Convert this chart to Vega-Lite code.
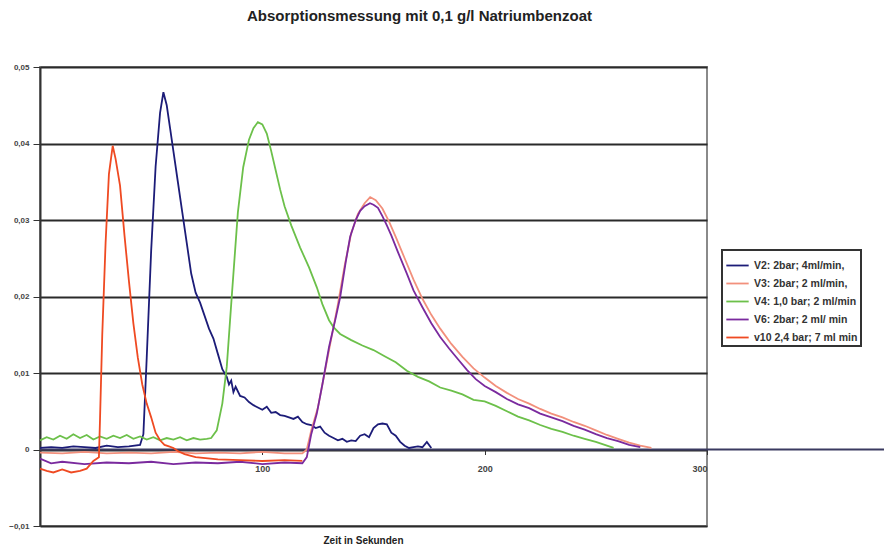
{
  "$schema": "https://vega.github.io/schema/vega-lite/v6.json",
  "autosize": "none",
  "width": 667,
  "height": 459,
  "padding": {"left": 40, "top": 67, "right": 177, "bottom": 21},
  "background": "white",
  "config": {
    "font": "Liberation Sans",
    "view": {"stroke": "#8a8a8a", "strokeWidth": 2}
  },
  "title": {
    "text": "Absorptionsmessung mit 0,1 g/l Natriumbenzoat",
    "fontSize": 15,
    "fontWeight": "bold",
    "color": "#222",
    "anchor": "middle",
    "dx": 46,
    "offset": 39
  },
  "datasets": {
    "pts": [
      {"s": "V2: 2bar; 4ml/min,", "t": 0, "y": 0.0002}, {"s": "V2: 2bar; 4ml/min,", "t": 5, "y": 0.0003}, {"s": "V2: 2bar; 4ml/min,", "t": 10, "y": 0.0002}, {"s": "V2: 2bar; 4ml/min,", "t": 15, "y": 0.0004}, {"s": "V2: 2bar; 4ml/min,", "t": 20, "y": 0.0003}, {"s": "V2: 2bar; 4ml/min,", "t": 25, "y": 0.0002}, {"s": "V2: 2bar; 4ml/min,", "t": 30, "y": 0.0005}, {"s": "V2: 2bar; 4ml/min,", "t": 35, "y": 0.0003}, {"s": "V2: 2bar; 4ml/min,", "t": 40, "y": 0.0004}, {"s": "V2: 2bar; 4ml/min,", "t": 45, "y": 0.0006}, {"s": "V2: 2bar; 4ml/min,", "t": 46.5, "y": 0.002}, {"s": "V2: 2bar; 4ml/min,", "t": 48, "y": 0.012}, {"s": "V2: 2bar; 4ml/min,", "t": 50, "y": 0.026}, {"s": "V2: 2bar; 4ml/min,", "t": 52, "y": 0.037}, {"s": "V2: 2bar; 4ml/min,", "t": 54, "y": 0.044}, {"s": "V2: 2bar; 4ml/min,", "t": 55.5, "y": 0.0467}, {"s": "V2: 2bar; 4ml/min,", "t": 57, "y": 0.045}, {"s": "V2: 2bar; 4ml/min,", "t": 58.5, "y": 0.042}, {"s": "V2: 2bar; 4ml/min,", "t": 60, "y": 0.039}, {"s": "V2: 2bar; 4ml/min,", "t": 62, "y": 0.035}, {"s": "V2: 2bar; 4ml/min,", "t": 64, "y": 0.031}, {"s": "V2: 2bar; 4ml/min,", "t": 66, "y": 0.027}, {"s": "V2: 2bar; 4ml/min,", "t": 68, "y": 0.023}, {"s": "V2: 2bar; 4ml/min,", "t": 70, "y": 0.0205}, {"s": "V2: 2bar; 4ml/min,", "t": 72, "y": 0.0192}, {"s": "V2: 2bar; 4ml/min,", "t": 74, "y": 0.0175}, {"s": "V2: 2bar; 4ml/min,", "t": 76, "y": 0.0158}, {"s": "V2: 2bar; 4ml/min,", "t": 78, "y": 0.0145}, {"s": "V2: 2bar; 4ml/min,", "t": 80, "y": 0.0125}, {"s": "V2: 2bar; 4ml/min,", "t": 82, "y": 0.0105}, {"s": "V2: 2bar; 4ml/min,", "t": 84, "y": 0.0095}, {"s": "V2: 2bar; 4ml/min,", "t": 85, "y": 0.0085}, {"s": "V2: 2bar; 4ml/min,", "t": 86, "y": 0.009}, {"s": "V2: 2bar; 4ml/min,", "t": 87, "y": 0.0075}, {"s": "V2: 2bar; 4ml/min,", "t": 88, "y": 0.0082}, {"s": "V2: 2bar; 4ml/min,", "t": 90, "y": 0.007}, {"s": "V2: 2bar; 4ml/min,", "t": 92, "y": 0.0068}, {"s": "V2: 2bar; 4ml/min,", "t": 94, "y": 0.0062}, {"s": "V2: 2bar; 4ml/min,", "t": 96, "y": 0.0058}, {"s": "V2: 2bar; 4ml/min,", "t": 98, "y": 0.0055}, {"s": "V2: 2bar; 4ml/min,", "t": 100, "y": 0.0052}, {"s": "V2: 2bar; 4ml/min,", "t": 102, "y": 0.0056}, {"s": "V2: 2bar; 4ml/min,", "t": 104, "y": 0.0048}, {"s": "V2: 2bar; 4ml/min,", "t": 106, "y": 0.0049}, {"s": "V2: 2bar; 4ml/min,", "t": 108, "y": 0.0045}, {"s": "V2: 2bar; 4ml/min,", "t": 110, "y": 0.0044}, {"s": "V2: 2bar; 4ml/min,", "t": 112, "y": 0.0042}, {"s": "V2: 2bar; 4ml/min,", "t": 114, "y": 0.004}, {"s": "V2: 2bar; 4ml/min,", "t": 116, "y": 0.0043}, {"s": "V2: 2bar; 4ml/min,", "t": 118, "y": 0.0036}, {"s": "V2: 2bar; 4ml/min,", "t": 120, "y": 0.0033}, {"s": "V2: 2bar; 4ml/min,", "t": 122, "y": 0.0032}, {"s": "V2: 2bar; 4ml/min,", "t": 124, "y": 0.0028}, {"s": "V2: 2bar; 4ml/min,", "t": 126, "y": 0.003}, {"s": "V2: 2bar; 4ml/min,", "t": 128, "y": 0.0022}, {"s": "V2: 2bar; 4ml/min,", "t": 130, "y": 0.0018}, {"s": "V2: 2bar; 4ml/min,", "t": 132, "y": 0.0015}, {"s": "V2: 2bar; 4ml/min,", "t": 134, "y": 0.0012}, {"s": "V2: 2bar; 4ml/min,", "t": 136, "y": 0.0014}, {"s": "V2: 2bar; 4ml/min,", "t": 138, "y": 0.001}, {"s": "V2: 2bar; 4ml/min,", "t": 140, "y": 0.0012}, {"s": "V2: 2bar; 4ml/min,", "t": 142, "y": 0.0011}, {"s": "V2: 2bar; 4ml/min,", "t": 144, "y": 0.0018}, {"s": "V2: 2bar; 4ml/min,", "t": 146, "y": 0.002}, {"s": "V2: 2bar; 4ml/min,", "t": 148, "y": 0.0016}, {"s": "V2: 2bar; 4ml/min,", "t": 150, "y": 0.0028}, {"s": "V2: 2bar; 4ml/min,", "t": 152, "y": 0.0033}, {"s": "V2: 2bar; 4ml/min,", "t": 154, "y": 0.0034}, {"s": "V2: 2bar; 4ml/min,", "t": 156, "y": 0.0033}, {"s": "V2: 2bar; 4ml/min,", "t": 158, "y": 0.0022}, {"s": "V2: 2bar; 4ml/min,", "t": 160, "y": 0.0018}, {"s": "V2: 2bar; 4ml/min,", "t": 162, "y": 0.001}, {"s": "V2: 2bar; 4ml/min,", "t": 164, "y": 0.0005}, {"s": "V2: 2bar; 4ml/min,", "t": 166, "y": 0.0002}, {"s": "V2: 2bar; 4ml/min,", "t": 168, "y": 0.0003}, {"s": "V2: 2bar; 4ml/min,", "t": 170, "y": 0.0004}, {"s": "V2: 2bar; 4ml/min,", "t": 172, "y": 0.0003}, {"s": "V2: 2bar; 4ml/min,", "t": 174, "y": 0.001}, {"s": "V2: 2bar; 4ml/min,", "t": 176, "y": 0.0002},

      {"s": "V3: 2bar; 2 ml/min,", "t": 0, "y": -0.0004}, {"s": "V3: 2bar; 2 ml/min,", "t": 10, "y": -0.0005}, {"s": "V3: 2bar; 2 ml/min,", "t": 20, "y": -0.0003}, {"s": "V3: 2bar; 2 ml/min,", "t": 30, "y": -0.0005}, {"s": "V3: 2bar; 2 ml/min,", "t": 40, "y": -0.0004}, {"s": "V3: 2bar; 2 ml/min,", "t": 50, "y": -0.0005}, {"s": "V3: 2bar; 2 ml/min,", "t": 60, "y": -0.0003}, {"s": "V3: 2bar; 2 ml/min,", "t": 70, "y": -0.0005}, {"s": "V3: 2bar; 2 ml/min,", "t": 80, "y": -0.0004}, {"s": "V3: 2bar; 2 ml/min,", "t": 90, "y": -0.0005}, {"s": "V3: 2bar; 2 ml/min,", "t": 100, "y": -0.0003}, {"s": "V3: 2bar; 2 ml/min,", "t": 110, "y": -0.0005}, {"s": "V3: 2bar; 2 ml/min,", "t": 118, "y": -0.0005}, {"s": "V3: 2bar; 2 ml/min,", "t": 120, "y": 0.0}, {"s": "V3: 2bar; 2 ml/min,", "t": 122, "y": 0.0025}, {"s": "V3: 2bar; 2 ml/min,", "t": 125, "y": 0.0055}, {"s": "V3: 2bar; 2 ml/min,", "t": 128, "y": 0.01}, {"s": "V3: 2bar; 2 ml/min,", "t": 131, "y": 0.0145}, {"s": "V3: 2bar; 2 ml/min,", "t": 134, "y": 0.019}, {"s": "V3: 2bar; 2 ml/min,", "t": 137, "y": 0.024}, {"s": "V3: 2bar; 2 ml/min,", "t": 140, "y": 0.0283}, {"s": "V3: 2bar; 2 ml/min,", "t": 143, "y": 0.0308}, {"s": "V3: 2bar; 2 ml/min,", "t": 146, "y": 0.0322}, {"s": "V3: 2bar; 2 ml/min,", "t": 148.5, "y": 0.033}, {"s": "V3: 2bar; 2 ml/min,", "t": 151, "y": 0.0326}, {"s": "V3: 2bar; 2 ml/min,", "t": 154, "y": 0.0315}, {"s": "V3: 2bar; 2 ml/min,", "t": 157, "y": 0.0298}, {"s": "V3: 2bar; 2 ml/min,", "t": 160, "y": 0.0278}, {"s": "V3: 2bar; 2 ml/min,", "t": 164, "y": 0.025}, {"s": "V3: 2bar; 2 ml/min,", "t": 168, "y": 0.0222}, {"s": "V3: 2bar; 2 ml/min,", "t": 172, "y": 0.0197}, {"s": "V3: 2bar; 2 ml/min,", "t": 176, "y": 0.0176}, {"s": "V3: 2bar; 2 ml/min,", "t": 180, "y": 0.0158}, {"s": "V3: 2bar; 2 ml/min,", "t": 185, "y": 0.0138}, {"s": "V3: 2bar; 2 ml/min,", "t": 190, "y": 0.0121}, {"s": "V3: 2bar; 2 ml/min,", "t": 195, "y": 0.0106}, {"s": "V3: 2bar; 2 ml/min,", "t": 200, "y": 0.0094}, {"s": "V3: 2bar; 2 ml/min,", "t": 205, "y": 0.0083}, {"s": "V3: 2bar; 2 ml/min,", "t": 210, "y": 0.0074}, {"s": "V3: 2bar; 2 ml/min,", "t": 215, "y": 0.0066}, {"s": "V3: 2bar; 2 ml/min,", "t": 220, "y": 0.006}, {"s": "V3: 2bar; 2 ml/min,", "t": 225, "y": 0.0053}, {"s": "V3: 2bar; 2 ml/min,", "t": 230, "y": 0.0047}, {"s": "V3: 2bar; 2 ml/min,", "t": 235, "y": 0.0042}, {"s": "V3: 2bar; 2 ml/min,", "t": 240, "y": 0.0036}, {"s": "V3: 2bar; 2 ml/min,", "t": 245, "y": 0.0031}, {"s": "V3: 2bar; 2 ml/min,", "t": 250, "y": 0.0025}, {"s": "V3: 2bar; 2 ml/min,", "t": 255, "y": 0.0019}, {"s": "V3: 2bar; 2 ml/min,", "t": 260, "y": 0.0014}, {"s": "V3: 2bar; 2 ml/min,", "t": 265, "y": 0.0009}, {"s": "V3: 2bar; 2 ml/min,", "t": 270, "y": 0.0005}, {"s": "V3: 2bar; 2 ml/min,", "t": 275, "y": 0.0002},

      {"s": "V4: 1,0 bar; 2 ml/min", "t": 0, "y": 0.0012}, {"s": "V4: 1,0 bar; 2 ml/min", "t": 3, "y": 0.0016}, {"s": "V4: 1,0 bar; 2 ml/min", "t": 6, "y": 0.0013}, {"s": "V4: 1,0 bar; 2 ml/min", "t": 9, "y": 0.0018}, {"s": "V4: 1,0 bar; 2 ml/min", "t": 12, "y": 0.0014}, {"s": "V4: 1,0 bar; 2 ml/min", "t": 15, "y": 0.002}, {"s": "V4: 1,0 bar; 2 ml/min", "t": 18, "y": 0.0015}, {"s": "V4: 1,0 bar; 2 ml/min", "t": 21, "y": 0.0019}, {"s": "V4: 1,0 bar; 2 ml/min", "t": 24, "y": 0.0013}, {"s": "V4: 1,0 bar; 2 ml/min", "t": 27, "y": 0.0017}, {"s": "V4: 1,0 bar; 2 ml/min", "t": 30, "y": 0.0014}, {"s": "V4: 1,0 bar; 2 ml/min", "t": 33, "y": 0.0018}, {"s": "V4: 1,0 bar; 2 ml/min", "t": 36, "y": 0.0015}, {"s": "V4: 1,0 bar; 2 ml/min", "t": 39, "y": 0.0019}, {"s": "V4: 1,0 bar; 2 ml/min", "t": 42, "y": 0.0014}, {"s": "V4: 1,0 bar; 2 ml/min", "t": 45, "y": 0.0017}, {"s": "V4: 1,0 bar; 2 ml/min", "t": 48, "y": 0.0013}, {"s": "V4: 1,0 bar; 2 ml/min", "t": 51, "y": 0.0016}, {"s": "V4: 1,0 bar; 2 ml/min", "t": 54, "y": 0.0012}, {"s": "V4: 1,0 bar; 2 ml/min", "t": 57, "y": 0.0015}, {"s": "V4: 1,0 bar; 2 ml/min", "t": 60, "y": 0.0013}, {"s": "V4: 1,0 bar; 2 ml/min", "t": 63, "y": 0.0016}, {"s": "V4: 1,0 bar; 2 ml/min", "t": 66, "y": 0.0012}, {"s": "V4: 1,0 bar; 2 ml/min", "t": 69, "y": 0.0015}, {"s": "V4: 1,0 bar; 2 ml/min", "t": 72, "y": 0.0013}, {"s": "V4: 1,0 bar; 2 ml/min", "t": 75, "y": 0.0014}, {"s": "V4: 1,0 bar; 2 ml/min", "t": 77, "y": 0.0015}, {"s": "V4: 1,0 bar; 2 ml/min", "t": 79.5, "y": 0.0025}, {"s": "V4: 1,0 bar; 2 ml/min", "t": 82, "y": 0.006}, {"s": "V4: 1,0 bar; 2 ml/min", "t": 84, "y": 0.0108}, {"s": "V4: 1,0 bar; 2 ml/min", "t": 86, "y": 0.019}, {"s": "V4: 1,0 bar; 2 ml/min", "t": 87.5, "y": 0.025}, {"s": "V4: 1,0 bar; 2 ml/min", "t": 89, "y": 0.031}, {"s": "V4: 1,0 bar; 2 ml/min", "t": 91.4, "y": 0.0369}, {"s": "V4: 1,0 bar; 2 ml/min", "t": 94, "y": 0.0405}, {"s": "V4: 1,0 bar; 2 ml/min", "t": 96, "y": 0.042}, {"s": "V4: 1,0 bar; 2 ml/min", "t": 98, "y": 0.0428}, {"s": "V4: 1,0 bar; 2 ml/min", "t": 100, "y": 0.0425}, {"s": "V4: 1,0 bar; 2 ml/min", "t": 102, "y": 0.0413}, {"s": "V4: 1,0 bar; 2 ml/min", "t": 104, "y": 0.039}, {"s": "V4: 1,0 bar; 2 ml/min", "t": 106, "y": 0.0365}, {"s": "V4: 1,0 bar; 2 ml/min", "t": 108, "y": 0.034}, {"s": "V4: 1,0 bar; 2 ml/min", "t": 110, "y": 0.0318}, {"s": "V4: 1,0 bar; 2 ml/min", "t": 113, "y": 0.0293}, {"s": "V4: 1,0 bar; 2 ml/min", "t": 117, "y": 0.0264}, {"s": "V4: 1,0 bar; 2 ml/min", "t": 121, "y": 0.0238}, {"s": "V4: 1,0 bar; 2 ml/min", "t": 124.5, "y": 0.0212}, {"s": "V4: 1,0 bar; 2 ml/min", "t": 127, "y": 0.019}, {"s": "V4: 1,0 bar; 2 ml/min", "t": 130, "y": 0.0169}, {"s": "V4: 1,0 bar; 2 ml/min", "t": 132, "y": 0.016}, {"s": "V4: 1,0 bar; 2 ml/min", "t": 135, "y": 0.0151}, {"s": "V4: 1,0 bar; 2 ml/min", "t": 140, "y": 0.0143}, {"s": "V4: 1,0 bar; 2 ml/min", "t": 145, "y": 0.0136}, {"s": "V4: 1,0 bar; 2 ml/min", "t": 150, "y": 0.013}, {"s": "V4: 1,0 bar; 2 ml/min", "t": 155, "y": 0.0122}, {"s": "V4: 1,0 bar; 2 ml/min", "t": 160, "y": 0.0114}, {"s": "V4: 1,0 bar; 2 ml/min", "t": 165, "y": 0.0103}, {"s": "V4: 1,0 bar; 2 ml/min", "t": 170, "y": 0.0095}, {"s": "V4: 1,0 bar; 2 ml/min", "t": 175, "y": 0.0089}, {"s": "V4: 1,0 bar; 2 ml/min", "t": 180, "y": 0.0081}, {"s": "V4: 1,0 bar; 2 ml/min", "t": 185, "y": 0.0077}, {"s": "V4: 1,0 bar; 2 ml/min", "t": 190, "y": 0.0072}, {"s": "V4: 1,0 bar; 2 ml/min", "t": 195, "y": 0.0065}, {"s": "V4: 1,0 bar; 2 ml/min", "t": 200, "y": 0.0063}, {"s": "V4: 1,0 bar; 2 ml/min", "t": 205, "y": 0.0057}, {"s": "V4: 1,0 bar; 2 ml/min", "t": 210, "y": 0.005}, {"s": "V4: 1,0 bar; 2 ml/min", "t": 215, "y": 0.0043}, {"s": "V4: 1,0 bar; 2 ml/min", "t": 220, "y": 0.0038}, {"s": "V4: 1,0 bar; 2 ml/min", "t": 225, "y": 0.0032}, {"s": "V4: 1,0 bar; 2 ml/min", "t": 230, "y": 0.0027}, {"s": "V4: 1,0 bar; 2 ml/min", "t": 235, "y": 0.0023}, {"s": "V4: 1,0 bar; 2 ml/min", "t": 240, "y": 0.0018}, {"s": "V4: 1,0 bar; 2 ml/min", "t": 245, "y": 0.0014}, {"s": "V4: 1,0 bar; 2 ml/min", "t": 250, "y": 0.001}, {"s": "V4: 1,0 bar; 2 ml/min", "t": 255, "y": 0.0005}, {"s": "V4: 1,0 bar; 2 ml/min", "t": 258, "y": 0.0002},

      {"s": "V6: 2bar; 2 ml/ min", "t": 0, "y": -0.0012}, {"s": "V6: 2bar; 2 ml/ min", "t": 5, "y": -0.0018}, {"s": "V6: 2bar; 2 ml/ min", "t": 10, "y": -0.0016}, {"s": "V6: 2bar; 2 ml/ min", "t": 20, "y": -0.0019}, {"s": "V6: 2bar; 2 ml/ min", "t": 30, "y": -0.0017}, {"s": "V6: 2bar; 2 ml/ min", "t": 40, "y": -0.0018}, {"s": "V6: 2bar; 2 ml/ min", "t": 50, "y": -0.0016}, {"s": "V6: 2bar; 2 ml/ min", "t": 60, "y": -0.0019}, {"s": "V6: 2bar; 2 ml/ min", "t": 70, "y": -0.0017}, {"s": "V6: 2bar; 2 ml/ min", "t": 80, "y": -0.0018}, {"s": "V6: 2bar; 2 ml/ min", "t": 90, "y": -0.0016}, {"s": "V6: 2bar; 2 ml/ min", "t": 100, "y": -0.0019}, {"s": "V6: 2bar; 2 ml/ min", "t": 110, "y": -0.0017}, {"s": "V6: 2bar; 2 ml/ min", "t": 118, "y": -0.0018}, {"s": "V6: 2bar; 2 ml/ min", "t": 120, "y": -0.001}, {"s": "V6: 2bar; 2 ml/ min", "t": 122, "y": 0.002}, {"s": "V6: 2bar; 2 ml/ min", "t": 124.5, "y": 0.0047}, {"s": "V6: 2bar; 2 ml/ min", "t": 127, "y": 0.0085}, {"s": "V6: 2bar; 2 ml/ min", "t": 130, "y": 0.0134}, {"s": "V6: 2bar; 2 ml/ min", "t": 133, "y": 0.0172}, {"s": "V6: 2bar; 2 ml/ min", "t": 135, "y": 0.0199}, {"s": "V6: 2bar; 2 ml/ min", "t": 137.5, "y": 0.0245}, {"s": "V6: 2bar; 2 ml/ min", "t": 139.5, "y": 0.0278}, {"s": "V6: 2bar; 2 ml/ min", "t": 142, "y": 0.03}, {"s": "V6: 2bar; 2 ml/ min", "t": 144, "y": 0.0312}, {"s": "V6: 2bar; 2 ml/ min", "t": 146, "y": 0.0318}, {"s": "V6: 2bar; 2 ml/ min", "t": 148.4, "y": 0.0322}, {"s": "V6: 2bar; 2 ml/ min", "t": 150, "y": 0.032}, {"s": "V6: 2bar; 2 ml/ min", "t": 152, "y": 0.0316}, {"s": "V6: 2bar; 2 ml/ min", "t": 154, "y": 0.0305}, {"s": "V6: 2bar; 2 ml/ min", "t": 156, "y": 0.0293}, {"s": "V6: 2bar; 2 ml/ min", "t": 158, "y": 0.028}, {"s": "V6: 2bar; 2 ml/ min", "t": 161, "y": 0.0258}, {"s": "V6: 2bar; 2 ml/ min", "t": 165, "y": 0.023}, {"s": "V6: 2bar; 2 ml/ min", "t": 168, "y": 0.0208}, {"s": "V6: 2bar; 2 ml/ min", "t": 172, "y": 0.0186}, {"s": "V6: 2bar; 2 ml/ min", "t": 176, "y": 0.0165}, {"s": "V6: 2bar; 2 ml/ min", "t": 180, "y": 0.0147}, {"s": "V6: 2bar; 2 ml/ min", "t": 184, "y": 0.0132}, {"s": "V6: 2bar; 2 ml/ min", "t": 188, "y": 0.0118}, {"s": "V6: 2bar; 2 ml/ min", "t": 192, "y": 0.0104}, {"s": "V6: 2bar; 2 ml/ min", "t": 196, "y": 0.0092}, {"s": "V6: 2bar; 2 ml/ min", "t": 200, "y": 0.0083}, {"s": "V6: 2bar; 2 ml/ min", "t": 205, "y": 0.0075}, {"s": "V6: 2bar; 2 ml/ min", "t": 210, "y": 0.0066}, {"s": "V6: 2bar; 2 ml/ min", "t": 215, "y": 0.0059}, {"s": "V6: 2bar; 2 ml/ min", "t": 220, "y": 0.0054}, {"s": "V6: 2bar; 2 ml/ min", "t": 225, "y": 0.0047}, {"s": "V6: 2bar; 2 ml/ min", "t": 230, "y": 0.0042}, {"s": "V6: 2bar; 2 ml/ min", "t": 235, "y": 0.0037}, {"s": "V6: 2bar; 2 ml/ min", "t": 240, "y": 0.0031}, {"s": "V6: 2bar; 2 ml/ min", "t": 245, "y": 0.0026}, {"s": "V6: 2bar; 2 ml/ min", "t": 250, "y": 0.002}, {"s": "V6: 2bar; 2 ml/ min", "t": 255, "y": 0.0015}, {"s": "V6: 2bar; 2 ml/ min", "t": 260, "y": 0.0011}, {"s": "V6: 2bar; 2 ml/ min", "t": 265, "y": 0.0006}, {"s": "V6: 2bar; 2 ml/ min", "t": 270, "y": 0.0003},

      {"s": "v10 2,4 bar; 7 ml min", "t": 0, "y": -0.0025}, {"s": "v10 2,4 bar; 7 ml min", "t": 3, "y": -0.0028}, {"s": "v10 2,4 bar; 7 ml min", "t": 6, "y": -0.003}, {"s": "v10 2,4 bar; 7 ml min", "t": 10, "y": -0.0026}, {"s": "v10 2,4 bar; 7 ml min", "t": 14, "y": -0.003}, {"s": "v10 2,4 bar; 7 ml min", "t": 18, "y": -0.0028}, {"s": "v10 2,4 bar; 7 ml min", "t": 21, "y": -0.0025}, {"s": "v10 2,4 bar; 7 ml min", "t": 24, "y": -0.0015}, {"s": "v10 2,4 bar; 7 ml min", "t": 26.5, "y": -0.001}, {"s": "v10 2,4 bar; 7 ml min", "t": 27, "y": 0.004}, {"s": "v10 2,4 bar; 7 ml min", "t": 28, "y": 0.015}, {"s": "v10 2,4 bar; 7 ml min", "t": 29.5, "y": 0.027}, {"s": "v10 2,4 bar; 7 ml min", "t": 31, "y": 0.036}, {"s": "v10 2,4 bar; 7 ml min", "t": 32.7, "y": 0.0397}, {"s": "v10 2,4 bar; 7 ml min", "t": 34, "y": 0.038}, {"s": "v10 2,4 bar; 7 ml min", "t": 36, "y": 0.0345}, {"s": "v10 2,4 bar; 7 ml min", "t": 38, "y": 0.028}, {"s": "v10 2,4 bar; 7 ml min", "t": 40, "y": 0.022}, {"s": "v10 2,4 bar; 7 ml min", "t": 42, "y": 0.0165}, {"s": "v10 2,4 bar; 7 ml min", "t": 44, "y": 0.012}, {"s": "v10 2,4 bar; 7 ml min", "t": 46, "y": 0.0085}, {"s": "v10 2,4 bar; 7 ml min", "t": 48, "y": 0.006}, {"s": "v10 2,4 bar; 7 ml min", "t": 50, "y": 0.0042}, {"s": "v10 2,4 bar; 7 ml min", "t": 52, "y": 0.0022}, {"s": "v10 2,4 bar; 7 ml min", "t": 54, "y": 0.0012}, {"s": "v10 2,4 bar; 7 ml min", "t": 56, "y": 0.0006}, {"s": "v10 2,4 bar; 7 ml min", "t": 58, "y": 0.0004}, {"s": "v10 2,4 bar; 7 ml min", "t": 60, "y": 0.0002}, {"s": "v10 2,4 bar; 7 ml min", "t": 62, "y": -0.0002}, {"s": "v10 2,4 bar; 7 ml min", "t": 65, "y": -0.0006}, {"s": "v10 2,4 bar; 7 ml min", "t": 70, "y": -0.001}, {"s": "v10 2,4 bar; 7 ml min", "t": 80, "y": -0.0013}, {"s": "v10 2,4 bar; 7 ml min", "t": 90, "y": -0.0014}, {"s": "v10 2,4 bar; 7 ml min", "t": 100, "y": -0.0015}, {"s": "v10 2,4 bar; 7 ml min", "t": 110, "y": -0.0014}, {"s": "v10 2,4 bar; 7 ml min", "t": 118, "y": -0.0015}
    ],
    "zero": [{"a": 0, "b": 400, "v": 0}]
  },
  "layer": [
    {
      "data": {"name": "zero"},
      "mark": {"type": "rule", "color": "#3a3a60", "strokeWidth": 2, "clip": false},
      "encoding": {
        "x": {"field": "a", "type": "quantitative", "scale": {"domain": [0, 300]}},
        "x2": {"field": "b"},
        "y": {"field": "v", "type": "quantitative"}
      }
    },
    {
      "data": {"name": "pts"},
      "mark": {"type": "line", "strokeWidth": 1.8},
      "encoding": {
        "x": {
          "field": "t", "type": "quantitative",
          "scale": {"domain": [0, 300], "nice": false, "zero": false},
          "axis": {
            "values": [0, 100, 200, 300],
            "offset": -76.5,
            "grid": false,
            "domainColor": "#333",
            "domainWidth": 2,
            "tickColor": "#333",
            "tickSize": 5,
            "labelExpr": "datum.value == 0 ? '' : datum.label",
            "labelFontSize": 9,
            "labelFontWeight": "bold",
            "labelColor": "#444",
            "labelPadding": 10,
            "title": "Zeit in Sekunden",
            "titleFontSize": 10,
            "titleFontWeight": "bold",
            "titleColor": "#222",
            "titleBaseline": "top",
            "titleY": 86,
            "titleX": 323
          }
        },
        "y": {
          "field": "y", "type": "quantitative",
          "scale": {"domain": [-0.01, 0.05], "nice": false, "zero": false},
          "axis": {
            "values": [-0.01, 0, 0.01, 0.02, 0.03, 0.04, 0.05],
            "labelExpr": "datum.value == 0 ? '0' : replace(format(datum.value, '.2f'), '.', ',')",
            "grid": true,
            "gridColor": "#2a2a2a",
            "gridWidth": 2,
            "domainColor": "#333",
            "domainWidth": 2,
            "tickColor": "#333",
            "tickSize": 7,
            "labelFontSize": 8,
            "labelFontWeight": "bold",
            "labelColor": "#444",
            "labelPadding": 4,
            "title": null
          }
        },
        "color": {
          "field": "s", "type": "nominal",
          "scale": {
            "domain": ["V2: 2bar; 4ml/min,", "V3: 2bar; 2 ml/min,", "V4: 1,0 bar; 2 ml/min", "V6: 2bar; 2 ml/ min", "v10 2,4 bar; 7 ml min"],
            "range": ["#1c1c78", "#f2907c", "#6cc04a", "#7a2a9e", "#ef4a22"]
          },
          "legend": {
            "title": null,
            "orient": "none",
            "legendX": 682,
            "legendY": 183,
            "symbolType": "stroke",
            "symbolSize": 500,
            "symbolStrokeWidth": 1.8,
            "labelFontSize": 10.5,
            "labelFontWeight": "bold",
            "labelColor": "#333",
            "labelOffset": 4,
            "rowPadding": -8,
            "padding": 3,
            "strokeColor": "#333",
            "fillColor": "white",
            "labelLimit": 200,
            "encode": {"legend": {"update": {"strokeWidth": {"value": 2}}}}
          }
        },
        "order": {"field": "t", "type": "quantitative"}
      }
    }
  ]
}
